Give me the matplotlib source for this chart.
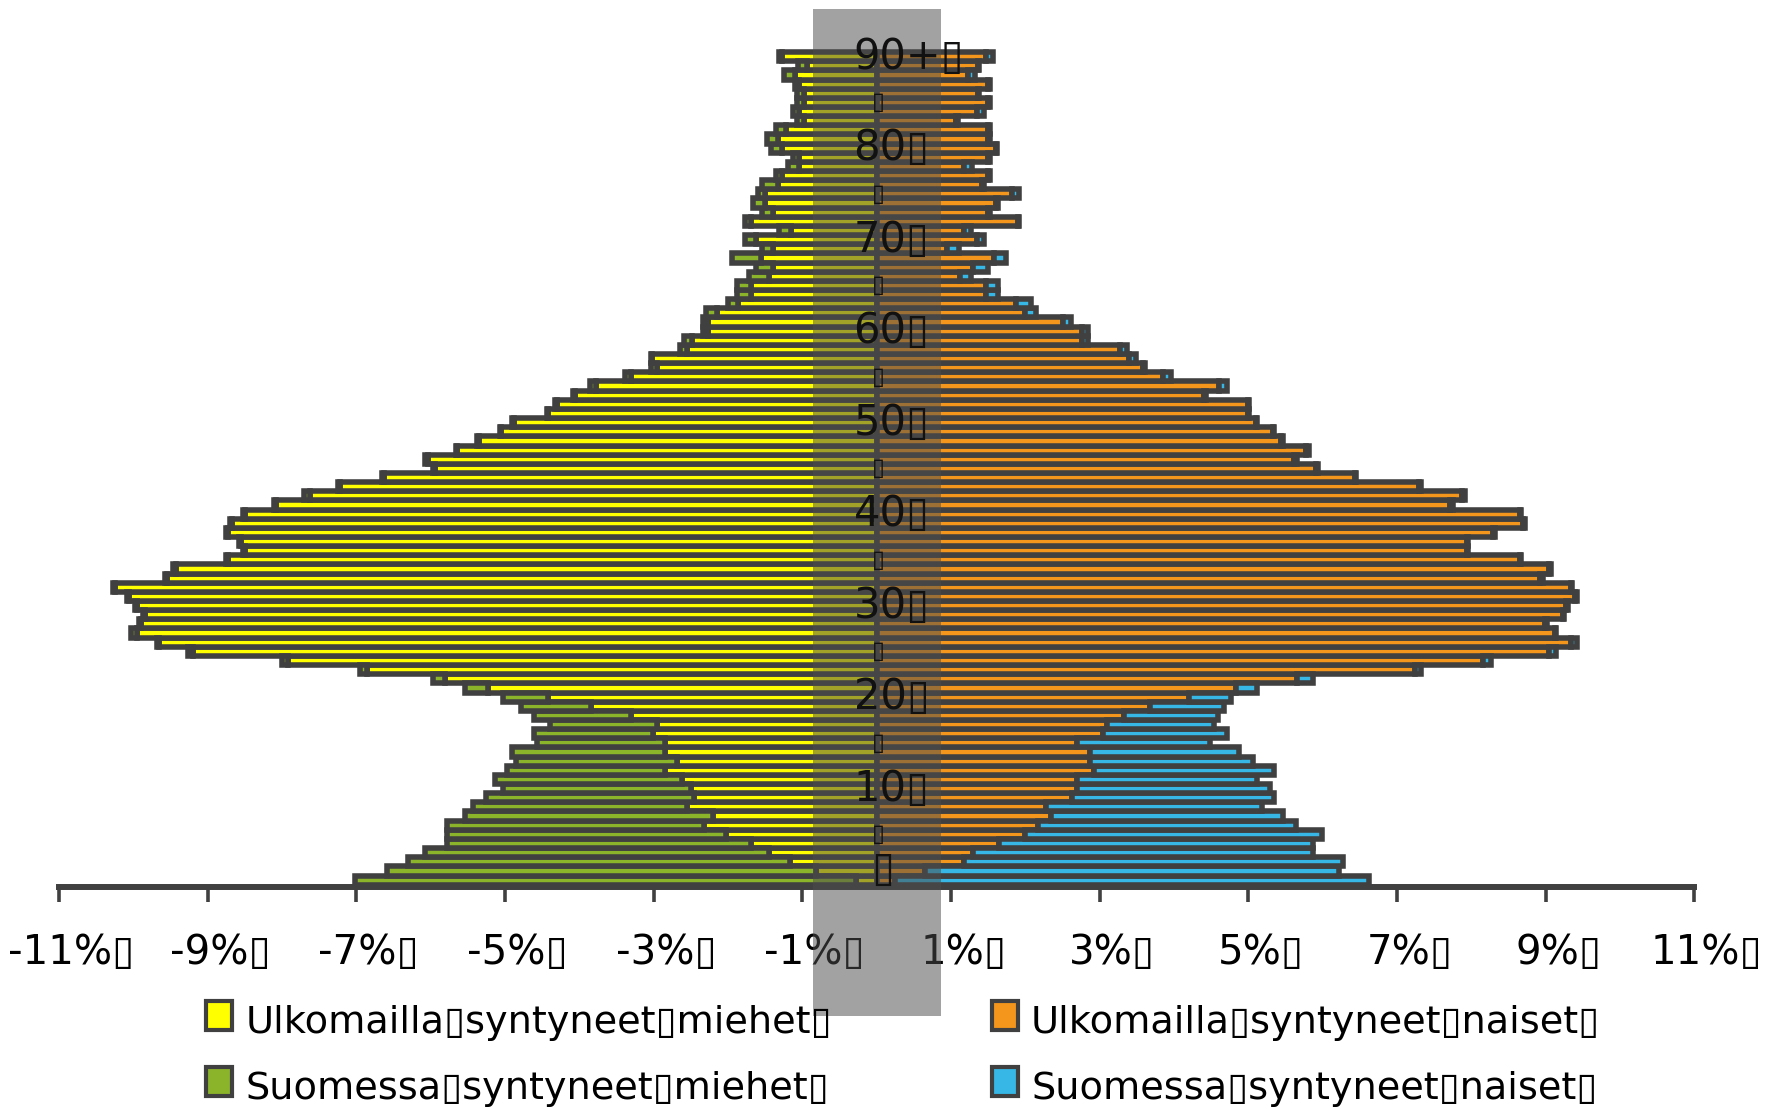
import numpy as np
import matplotlib.pyplot as plt
from matplotlib.patches import Rectangle
from matplotlib.transforms import blended_transform_factory, ScaledTranslation

# age groups 0 .. 90+ (share of each group, %)
ages = np.arange(0, 91)

men_foreign = [
    0.28, 0.81, 1.16, 1.45, 1.69, 2.03, 2.32, 2.20, 2.55, 2.45,
    2.50, 2.62, 2.85, 2.68, 2.85, 2.85, 3.01, 2.96, 3.31, 3.84,
    4.42, 5.23, 5.81, 6.86, 7.92, 9.19, 9.66, 9.95, 9.89, 9.84,
    9.95, 10.06, 10.24, 9.55, 9.43, 8.72, 8.50, 8.55, 8.72, 8.67,
    8.50, 8.08, 7.62, 7.22, 6.63, 5.94, 6.04, 5.64, 5.35, 5.05,
    4.88, 4.42, 4.30, 4.06, 3.77, 3.31, 2.96, 3.02, 2.55, 2.49,
    2.27, 2.27, 2.15, 1.86, 1.69, 1.69, 1.45, 1.39, 1.56, 1.39,
    1.62, 1.15, 1.69, 1.39, 1.50, 1.50, 1.33, 1.27, 1.04, 1.04,
    1.27, 1.33, 1.22, 0.98, 1.04, 0.98, 0.98, 1.05, 1.10, 0.93,
    1.27,
]
men_finnish = [
    6.74, 5.77, 5.15, 4.62, 4.09, 3.75, 3.46, 3.34, 2.88, 2.81,
    2.53, 2.52, 2.12, 2.17, 2.06, 1.72, 1.60, 1.43, 1.30, 0.94,
    0.60, 0.31, 0.16, 0.09, 0.08, 0.08, 0.02, 0.08, 0.03, 0.03,
    0.03, 0.03, 0.03, 0.02, 0.03, 0.03, 0.02, 0.03, 0.03, 0.03,
    0.02, 0.02, 0.08, 0.02, 0.03, 0.03, 0.04, 0.02, 0.02, 0.02,
    0.03, 0.02, 0.02, 0.03, 0.08, 0.08, 0.08, 0.02, 0.09, 0.10,
    0.07, 0.07, 0.14, 0.14, 0.19, 0.19, 0.26, 0.23, 0.38, 0.15,
    0.15, 0.16, 0.08, 0.15, 0.16, 0.09, 0.21, 0.09, 0.15, 0.08,
    0.15, 0.14, 0.14, 0.09, 0.09, 0.09, 0.09, 0.05, 0.15, 0.13,
    0.04,
]
women_foreign = [
    0.25, 0.65, 1.18, 1.30, 1.65, 1.99, 2.17, 2.34, 2.28, 2.63,
    2.69, 2.69, 2.92, 2.87, 2.87, 2.69, 3.04, 3.10, 3.33, 3.68,
    4.20, 4.84, 5.66, 7.24, 8.16, 9.04, 9.34, 9.12, 8.99, 9.23,
    9.27, 9.40, 9.34, 8.93, 9.04, 8.65, 7.94, 7.94, 8.29, 8.70,
    8.65, 7.72, 7.88, 7.30, 6.43, 5.91, 5.62, 5.77, 5.44, 5.33,
    5.10, 4.99, 4.99, 4.40, 4.61, 3.85, 3.59, 3.39, 3.28, 2.76,
    2.76, 2.51, 1.99, 1.88, 1.47, 1.47, 1.12, 1.30, 1.58, 0.95,
    1.35, 1.17, 1.90, 1.50, 1.61, 1.82, 1.42, 1.50, 1.17, 1.50,
    1.60, 1.50, 1.50, 1.07, 1.35, 1.50, 1.36, 1.50, 1.23, 1.36,
    1.47,
]
women_finnish = [
    6.37, 5.57, 5.09, 4.57, 4.22, 4.00, 3.47, 3.13, 2.90, 2.72,
    2.60, 2.43, 2.43, 2.19, 2.01, 1.79, 1.67, 1.44, 1.26, 0.99,
    0.57, 0.28, 0.21, 0.09, 0.11, 0.10, 0.08, 0.02, 0.03, 0.02,
    0.03, 0.02, 0.02, 0.04, 0.03, 0.02, 0.02, 0.02, 0.03, 0.02,
    0.02, 0.03, 0.04, 0.03, 0.02, 0.03, 0.03, 0.05, 0.03, 0.02,
    0.02, 0.02, 0.02, 0.03, 0.10, 0.11, 0.02, 0.10, 0.09, 0.09,
    0.09, 0.10, 0.15, 0.20, 0.16, 0.16, 0.15, 0.20, 0.16, 0.16,
    0.10, 0.10, 0.02, 0.02, 0.02, 0.10, 0.02, 0.02, 0.11, 0.02,
    0.02, 0.02, 0.02, 0.03, 0.10, 0.02, 0.02, 0.02, 0.10, 0.02,
    0.10,
]

age_label_pos = [0, 5, 10, 15, 20, 25, 30, 35, 40, 45, 50, 55, 60, 65, 70, 75, 80, 85, 90]
age_label_text = ["▯", "▯", "10▯", "▯", "20▯", "▯", "30▯", "▯", "40▯", "▯",
                  "50▯", "▯", "60▯", "▯", "70▯", "▯", "80▯", "▯", "90+▯"]

x_ticks = [-11, -9, -7, -5, -3, -1, 1, 3, 5, 7, 9, 11]
x_tick_labels = ["-11%▯", "-9%▯", "-7%▯", "-5%▯", "-3%▯", "-1%▯",
                 "1%▯", "3%▯", "5%▯", "7%▯", "9%▯", "11%▯"]

series_names = ["Ulkomailla▯syntyneet▯miehet▯", "Ulkomailla▯syntyneet▯naiset▯",
                "Suomessa▯syntyneet▯miehet▯", "Suomessa▯syntyneet▯naiset▯"]

YELLOW = "#FFFF00"
ORANGE = "#F5961C"
GREEN = "#8CB42A"
BLUE = "#36B7E5"
EDGE = "#404040"

W, H = 1777, 1109
fig = plt.figure(figsize=(W / 100, H / 100), dpi=100)
ax = fig.add_axes([58.9 / W, 1 - 886.7 / H, (1694.3 - 58.9) / W, 839.2 / H])

mf = np.array(men_foreign)
ms = np.array(men_finnish)
wf = np.array(women_foreign)
ws = np.array(women_finnish)

lw = 4.0
ax.barh(ages, -mf, height=1.0, color=YELLOW, edgecolor=EDGE, linewidth=lw)
ax.barh(ages, -ms, left=-mf, height=1.0, color=GREEN, edgecolor=EDGE, linewidth=lw)
ax.barh(ages, wf, height=1.0, color=ORANGE, edgecolor=EDGE, linewidth=lw)
ax.barh(ages, ws, left=wf, height=1.0, color=BLUE, edgecolor=EDGE, linewidth=lw)

ax.set_xlim(-11, 11)
ax.set_ylim(-0.72, 91.0)

for s in ["top", "left", "right"]:
    ax.spines[s].set_visible(False)
ax.spines["bottom"].set_color(EDGE)
ax.spines["bottom"].set_linewidth(4.3)
ax.set_yticks([])
ax.set_xticks(x_ticks)
ax.set_xticklabels(x_tick_labels)
ax.tick_params(axis="x", length=11, width=2.6, color=EDGE, pad=22, labelsize=29)
shift = ScaledTranslation(0.125, 0, fig.dpi_scale_trans)
for lab in ax.get_xticklabels():
    lab.set_transform(lab.get_transform() + shift)

# grey band over the middle
trans = blended_transform_factory(ax.transData, fig.transFigure)
band = Rectangle((-0.85, 1 - 1016 / H), 1.71, (1016 - 9) / H, transform=trans,
                 facecolor="#4d4d4d", alpha=0.52, edgecolor="none", zorder=2)
fig.patches.append(band)

# age labels in the middle, drawn above the band
for pos, txt in zip(age_label_pos, age_label_text):
    if txt == "▯":
        size = 30 if pos == 0 else 17
        fig.text(0.08 if pos == 0 else 0.03, pos + (1.2 if pos == 0 else 0), txt,
                 transform=ax.transData, ha="center", va="center",
                 fontsize=size, color="#111111", zorder=4)
    else:
        fig.text(-0.31, pos, txt, transform=ax.transData, ha="left", va="center",
                 fontsize=30, color="#111111", zorder=4)

# legend
legend_items = [
    (206, 1001, YELLOW, 246, 1033, series_names[0]),
    (992, 1001, ORANGE, 1031, 1033, series_names[1]),
    (206, 1067, GREEN, 246, 1099, series_names[2]),
    (992, 1067, BLUE, 1031, 1099, series_names[3]),
]
for mx, my, col, tx, ty, name in legend_items:
    fig.patches.append(Rectangle((mx / W, 1 - (my + 29) / H), 26 / W, 29 / H,
                                 transform=fig.transFigure, facecolor=col,
                                 edgecolor=EDGE, linewidth=3, zorder=3))
    fig.text(tx / W, 1 - ty / H, name, fontsize=27.5, va="baseline", ha="left", zorder=4)

fig.savefig("out.png", dpi=100)
